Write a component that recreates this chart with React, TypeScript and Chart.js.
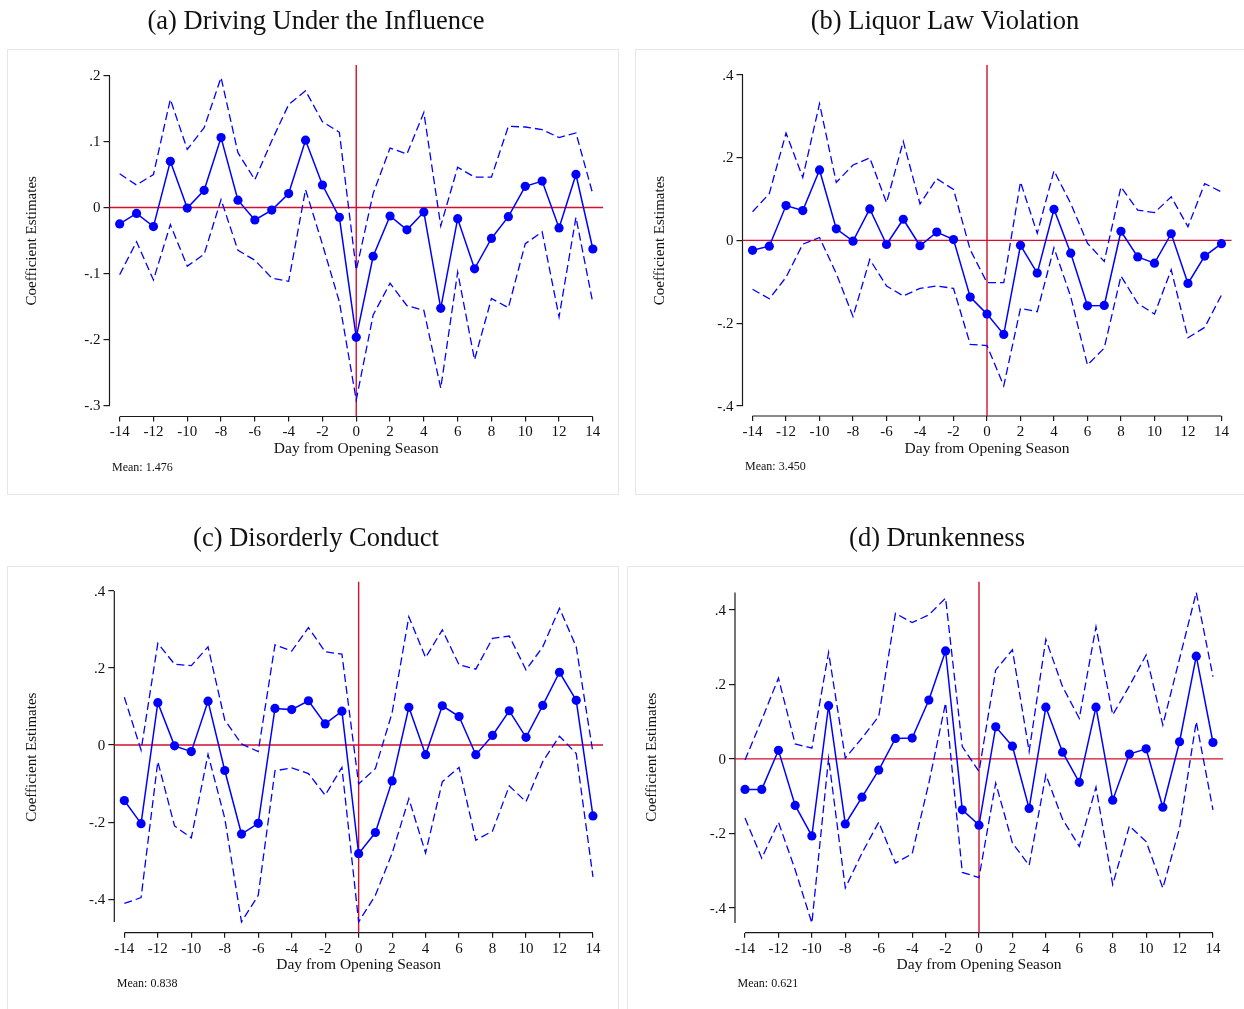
import React, { useEffect, useRef } from "react";
import { Chart, registerables } from "chart.js";

Chart.register(...registerables);

// ---------- data ----------
const days = [-14, -13, -12, -11, -10, -9, -8, -7, -6, -5, -4, -3, -2, -1, 0, 1, 2, 3, 4, 5, 6, 7, 8, 9, 10, 11, 12, 13, 14];
const xTickValues = [-14, -12, -10, -8, -6, -4, -2, 0, 2, 4, 6, 8, 10, 12, 14];
const duiTickValues = [-0.3, -0.2, -0.1, 0, 0.1, 0.2];
const wideTickValues = [-0.4, -0.2, 0, 0.2, 0.4];

const titles = ["(a) Driving Under the Influence", "(b) Liquor Law Violation", "(c) Disorderly Conduct", "(d) Drunkenness"];
const means = ["Mean: 1.476", "Mean: 3.450", "Mean: 0.838", "Mean: 0.621"];
const xAxisTitle = "Day from Opening Season";
const yAxisTitle = "Coefficient Estimates";

// (a) Driving Under the Influence
const duiCoef = [-0.025, -0.009, -0.029, 0.070, -0.001, 0.026, 0.106, 0.011, -0.019, -0.004, 0.021, 0.102, 0.034, -0.015, -0.197, -0.074, -0.013, -0.034, -0.007, -0.153, -0.017, -0.093, -0.047, -0.014, 0.032, 0.040, -0.031, 0.050, -0.063];
const duiUpper = [0.051, 0.034, 0.050, 0.164, 0.088, 0.121, 0.197, 0.083, 0.042, 0.101, 0.156, 0.177, 0.130, 0.114, -0.095, 0.021, 0.090, 0.081, 0.144, -0.028, 0.061, 0.046, 0.046, 0.123, 0.122, 0.118, 0.106, 0.113, 0.020];
const duiLower = [-0.102, -0.052, -0.110, -0.026, -0.089, -0.071, 0.012, -0.065, -0.080, -0.107, -0.112, 0.027, -0.056, -0.143, -0.292, -0.163, -0.115, -0.149, -0.156, -0.274, -0.098, -0.231, -0.138, -0.152, -0.055, -0.037, -0.166, -0.015, -0.145];

// (b) Liquor Law Violation
const liquorCoef = [-0.024, -0.014, 0.084, 0.072, 0.170, 0.028, -0.002, 0.076, -0.010, 0.051, -0.013, 0.020, 0.002, -0.137, -0.178, -0.227, -0.012, -0.079, 0.075, -0.031, -0.158, -0.157, 0.022, -0.040, -0.055, 0.016, -0.104, -0.038, -0.008];
const liquorUpper = [0.069, 0.113, 0.259, 0.152, 0.330, 0.140, 0.182, 0.199, 0.091, 0.239, 0.088, 0.149, 0.123, -0.023, -0.102, -0.102, 0.141, 0.017, 0.168, 0.089, -0.007, -0.051, 0.129, 0.073, 0.067, 0.105, 0.033, 0.137, 0.117];
const liquorLower = [-0.118, -0.141, -0.089, -0.009, 0.007, -0.080, -0.184, -0.046, -0.110, -0.134, -0.116, -0.110, -0.116, -0.251, -0.254, -0.351, -0.164, -0.172, -0.018, -0.136, -0.301, -0.260, -0.086, -0.152, -0.178, -0.071, -0.235, -0.210, -0.132];

// (c) Disorderly Conduct
const disorderCoef = [-0.144, -0.204, 0.110, -0.002, -0.017, 0.114, -0.066, -0.231, -0.203, 0.095, 0.092, 0.115, 0.055, 0.088, -0.282, -0.227, -0.093, 0.098, -0.025, 0.102, 0.074, -0.025, 0.025, 0.089, 0.020, 0.103, 0.189, 0.116, -0.184];
const disorderUpper = [0.124, -0.013, 0.264, 0.210, 0.206, 0.255, 0.065, 0.003, -0.017, 0.260, 0.244, 0.305, 0.242, 0.236, -0.101, -0.061, 0.084, 0.333, 0.227, 0.299, 0.208, 0.197, 0.277, 0.283, 0.195, 0.255, 0.355, 0.255, -0.020];
const disorderLower = [-0.411, -0.396, -0.043, -0.210, -0.241, -0.024, -0.190, -0.459, -0.390, -0.067, -0.059, -0.074, -0.130, -0.058, -0.459, -0.390, -0.281, -0.139, -0.280, -0.095, -0.058, -0.247, -0.223, -0.106, -0.147, -0.043, 0.023, -0.022, -0.342];

// (d) Drunkenness
const drunkCoef = [-0.082, -0.082, 0.023, -0.125, -0.207, 0.143, -0.175, -0.103, -0.030, 0.055, 0.056, 0.158, 0.290, -0.137, -0.178, 0.086, 0.034, -0.133, 0.139, 0.018, -0.063, 0.139, -0.111, 0.013, 0.027, -0.130, 0.046, 0.276, 0.044];
const drunkUpper = [-0.003, 0.105, 0.217, 0.040, 0.029, 0.286, 0.002, 0.056, 0.114, 0.391, 0.366, 0.387, 0.432, 0.033, -0.034, 0.239, 0.293, 0.020, 0.321, 0.194, 0.109, 0.355, 0.118, 0.196, 0.279, 0.091, 0.269, 0.447, 0.221];
const drunkLower = [-0.159, -0.267, -0.170, -0.298, -0.441, 0.002, -0.347, -0.253, -0.170, -0.280, -0.255, -0.065, 0.150, -0.305, -0.319, -0.065, -0.226, -0.286, -0.043, -0.162, -0.235, -0.076, -0.338, -0.180, -0.222, -0.347, -0.186, 0.100, -0.137];

// ---------- styling / geometry ----------
const FONT = '"Liberation Serif", "Times New Roman", Times, serif';
const BLUE = "#0000ff";
const RED = "#d3112e";
const AXIS = "#1a1a1a";
const TEXT = "#111111";

type PanelSpec = {
  title: string;
  mean: string;
  coef: number[];
  upper: number[];
  lower: number[];
  yTicks: number[];
  yMin: number;
  yMax: number;
  left: number;
  top: number;
  width: number;
  height: number;
  chartLeft: number;
  chartRight: number;
  chartTop: number;
  chartBottom: number;
  boxW: number;
  boxH: number;
  titleX: number;
};

const panels: PanelSpec[] = [
  { title: titles[0], mean: means[0], coef: duiCoef, upper: duiUpper, lower: duiLower, yTicks: duiTickValues, yMin: -0.317, yMax: 0.216,
    left: 0, top: 0, width: 625, height: 500, chartLeft: 109.5, chartRight: 603, chartTop: 65, chartBottom: 416.5, boxW: 611, boxH: 445, titleX: 316 },
  { title: titles[1], mean: means[1], coef: liquorCoef, upper: liquorUpper, lower: liquorLower, yTicks: wideTickValues, yMin: -0.424, yMax: 0.4234,
    left: 628, top: 0, width: 616, height: 500, chartLeft: 114.5, chartRight: 603.5, chartTop: 65, chartBottom: 416, boxW: 620, boxH: 445, titleX: 317 },
  { title: titles[2], mean: means[2], coef: disorderCoef, upper: disorderUpper, lower: disorderLower, yTicks: wideTickValues, yMin: -0.487, yMax: 0.424,
    left: 0, top: 517, width: 625, height: 492, chartLeft: 114.3, chartRight: 603, chartTop: 64.7, chartBottom: 415.7, boxW: 611, boxH: 520, titleX: 316 },
  { title: titles[3], mean: means[3], coef: drunkCoef, upper: drunkUpper, lower: drunkLower, yTicks: wideTickValues, yMin: -0.467, yMax: 0.476,
    left: 620, top: 517, width: 624, height: 492, chartLeft: 115, chartRight: 603, chartTop: 64.7, chartBottom: 415.7, boxW: 630, boxH: 520, titleX: 317 },
];

const X_SCALE_H = 42;
const PAD_LEFT = 23;

function fmtY(v: number): string {
  const r = Math.round(v * 10) / 10;
  if (r === 0) return "0";
  const s = String(Math.abs(r)).replace(/^0/, "");
  return (r < 0 ? "-" : "") + s;
}

function Panel({ p }: { p: PanelSpec }) {
  const ref = useRef<HTMLCanvasElement | null>(null);

  useEffect(() => {
    const canvas = ref.current;
    if (!canvas) return;

    const toPts = (arr: number[]) => days.map((d, i) => ({ x: d, y: arr[i] }));
    const allVals = [...p.coef, ...p.upper, ...p.lower, ...p.yTicks];
    const yLineTop = Math.max(...allVals);
    const yLineBottom = Math.min(...allVals);

    const decor = {
      id: "decor",
      beforeDraw(chart: any) {
        const ctx = chart.ctx;
        ctx.save();
        ctx.strokeStyle = "#e3e8ea";
        ctx.lineWidth = 1;
        ctx.strokeRect(7.5, 49.5, p.boxW, p.boxH);
        ctx.fillStyle = TEXT;
        ctx.font = `26.5px ${FONT}`;
        ctx.textAlign = "center";
        ctx.textBaseline = "middle";
        ctx.fillText(p.title, p.titleX, 22.5);
        ctx.font = `12px ${FONT}`;
        ctx.textAlign = "left";
        ctx.fillText(p.mean, chart.chartArea.left + 2.5, chart.chartArea.bottom + 51);
        ctx.restore();
      },
      beforeDatasetsDraw(chart: any) {
        const ctx = chart.ctx;
        const xs = chart.scales.x;
        const ys = chart.scales.y;
        const area = chart.chartArea;
        ctx.save();
        // axis lines
        ctx.strokeStyle = AXIS;
        ctx.lineWidth = 1.2;
        ctx.beginPath();
        ctx.moveTo(area.left, ys.getPixelForValue(yLineTop));
        ctx.lineTo(area.left, ys.getPixelForValue(yLineBottom));
        ctx.moveTo(xs.getPixelForValue(xTickValues[0]), area.bottom);
        ctx.lineTo(xs.getPixelForValue(xTickValues[xTickValues.length - 1]), area.bottom);
        ctx.stroke();
        // reference lines
        ctx.strokeStyle = RED;
        ctx.lineWidth = 1.4;
        ctx.beginPath();
        const y0 = ys.getPixelForValue(0);
        ctx.moveTo(area.left, y0);
        ctx.lineTo(area.right, y0);
        const x0 = xs.getPixelForValue(0);
        ctx.moveTo(x0, area.top);
        ctx.lineTo(x0, area.bottom);
        ctx.stroke();
        ctx.restore();
      },
    };

    const chart = new Chart(canvas, {
      type: "line",
      data: {
        datasets: [
          { data: toPts(p.upper), borderColor: BLUE, borderWidth: 1.3, borderDash: [8, 4], pointRadius: 0, fill: false, tension: 0 },
          { data: toPts(p.lower), borderColor: BLUE, borderWidth: 1.3, borderDash: [8, 4], pointRadius: 0, fill: false, tension: 0 },
          { data: toPts(p.coef), borderColor: BLUE, borderWidth: 1.5, pointRadius: 4.6, pointBackgroundColor: BLUE, pointBorderWidth: 0, fill: false, tension: 0 },
        ],
      },
      options: {
        responsive: false,
        animation: false,
        events: [],
        layout: {
          padding: {
            left: PAD_LEFT,
            top: p.chartTop,
            right: p.width - p.chartRight,
            bottom: p.height - p.chartBottom - X_SCALE_H,
          },
        },
        plugins: { legend: { display: false }, tooltip: { enabled: false }, title: { display: false } },
        scales: {
          x: {
            type: "linear",
            min: -14.6,
            max: 14.6,
            afterBuildTicks: (s: any) => { s.ticks = xTickValues.map((v) => ({ value: v })); },
            afterFit: (s: any) => { s.height = X_SCALE_H; },
            grid: { display: true, drawOnChartArea: false, drawTicks: true, tickLength: 5, color: AXIS, lineWidth: 1.2 },
            border: { display: false },
            ticks: { font: { family: FONT, size: 15 }, color: TEXT, padding: 2, maxRotation: 0, autoSkip: false, callback: (v: any) => String(v) },
            title: { display: true, text: xAxisTitle, font: { family: FONT, size: 15.5 }, color: TEXT, padding: 0 },
          },
          y: {
            type: "linear",
            min: p.yMin,
            max: p.yMax,
            afterBuildTicks: (s: any) => { s.ticks = p.yTicks.map((v) => ({ value: v })); },
            afterFit: (s: any) => { s.width = p.chartLeft - PAD_LEFT; },
            grid: { display: true, drawOnChartArea: false, drawTicks: true, tickLength: 6, color: AXIS, lineWidth: 1.2 },
            border: { display: false },
            ticks: { font: { family: FONT, size: 15 }, color: TEXT, padding: 3, labelOffset: 1, autoSkip: false, callback: (v: any) => fmtY(Number(v)) },
            title: { display: true, text: yAxisTitle, font: { family: FONT, size: 15 }, color: TEXT, padding: 0 },
          },
        },
      },
      plugins: [decor],
    } as any);

    return () => chart.destroy();
  }, [p]);

  return (
    <canvas
      ref={ref}
      width={p.width}
      height={p.height}
      style={{ position: "absolute", left: p.left, top: p.top, width: p.width, height: p.height }}
    />
  );
}

export default function App() {
  return (
    <div style={{ position: "absolute", left: 0, top: 0, width: 1244, height: 1009, background: "#ffffff", overflow: "hidden" }}>
      {panels.map((p, i) => (
        <Panel key={i} p={p} />
      ))}
    </div>
  );
}
